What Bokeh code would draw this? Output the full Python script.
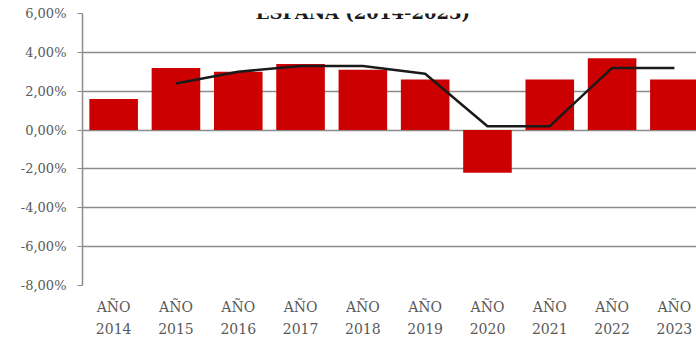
from bokeh.plotting import figure
from bokeh.models import FixedTicker, Range1d, Label, ColumnDataSource
from bokeh.embed import file_html
from bokeh.resources import INLINE

# ---- data ----
years = [2014, 2015, 2016, 2017, 2018, 2019, 2020, 2021, 2022, 2023]
x_labels = ["AÑO\n2014", "AÑO\n2015", "AÑO\n2016", "AÑO\n2017", "AÑO\n2018",
            "AÑO\n2019", "AÑO\n2020", "AÑO\n2021", "AÑO\n2022", "AÑO\n2023"]
bar_values = [1.6, 3.2, 3.0, 3.4, 3.1, 2.6, -2.2, 2.6, 3.7, 2.6]
line_years = [2015, 2016, 2017, 2018, 2019, 2020, 2021, 2022, 2023]
line_values = [2.4, 3.0, 3.3, 3.3, 2.9, 0.2, 0.2, 3.2, 3.2]
y_ticks = [-8, -6, -4, -2, 0, 2, 4, 6]
y_tick_labels = ["-8,00%", "-6,00%", "-4,00%", "-2,00%", "0,00%", "2,00%", "4,00%", "6,00%"]
title_text = "ESPAÑA (2014-2023)"

idx = {y: i for i, y in enumerate(years)}
bar_src = ColumnDataSource(dict(x=[idx[y] for y in years], top=bar_values))
line_src = ColumnDataSource(dict(x=[idx[y] for y in line_years], y=line_values))

GRID = "#8c8c8c"
SERIF = "DejaVu Serif"

p = figure(width=696, height=340, output_backend="svg", toolbar_location=None,
           x_range=Range1d(-0.5, 9.355), y_range=Range1d(-8, 6),
           min_border_left=82, min_border_right=0, min_border_top=13,
           min_border_bottom=55)
p.background_fill_color = "white"
p.border_fill_color = "white"
p.outline_line_color = None

p.vbar(x="x", top="top", bottom=0, width=0.78, source=bar_src,
       fill_color="#CC0000", line_color=None)
p.line(x="x", y="y", source=line_src, line_color="#1a1a1a", line_width=2.5)

# y axis
yax = p.yaxis[0]
yax.ticker = FixedTicker(ticks=y_ticks)
yax.major_label_overrides = {t: l for t, l in zip(y_ticks, y_tick_labels)}
yax.axis_line_color = GRID
yax.axis_line_width = 1.5
yax.major_tick_line_color = GRID
yax.major_tick_out = 5
yax.major_tick_in = 0
yax.minor_tick_line_color = None
yax.major_label_text_font = SERIF
yax.major_label_text_font_size = "13px"
yax.major_label_text_color = "#595959"
yax.major_label_standoff = 11

# x axis
xax = p.xaxis[0]
xax.ticker = FixedTicker(ticks=list(range(len(years))))
xax.major_label_overrides = {i: l for i, l in enumerate(x_labels)}
xax.axis_line_color = None
xax.major_tick_line_color = None
xax.minor_tick_line_color = None
xax.major_label_text_font = SERIF
xax.major_label_text_font_size = "14px"
xax.major_label_text_color = "#595959"
xax.major_label_text_line_height = 1.4
xax.major_label_standoff = 7

# grid
p.xgrid.grid_line_color = None
p.ygrid.ticker = FixedTicker(ticks=y_ticks)
p.ygrid.grid_line_color = GRID
p.ygrid.grid_line_width = 1.5

# title
p.add_layout(Label(x=4.0, y=6, text=title_text, text_align="center",
                   text_baseline="alphabetic", y_offset=1,
                   text_font=SERIF, text_font_style="bold",
                   text_font_size="18px", text_color="#1a1a1a"))

open("out.html", "w").write(file_html(p, INLINE))
